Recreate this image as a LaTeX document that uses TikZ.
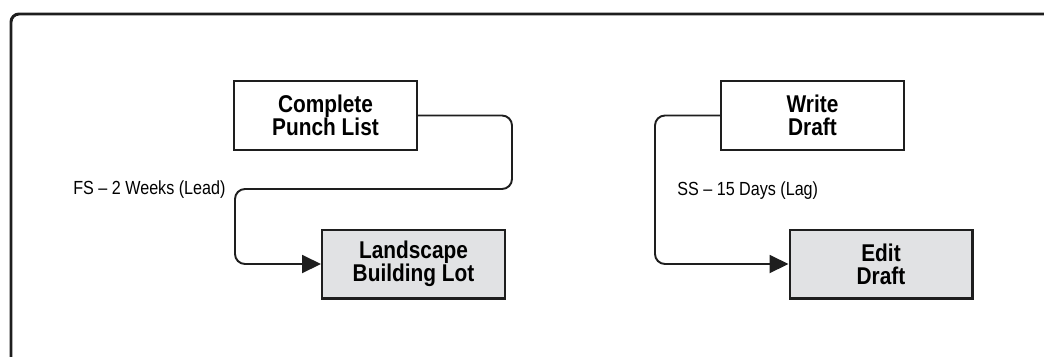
\documentclass[tikz,border=0pt]{standalone}
\usepackage{fontspec}
\setmainfont{Liberation Sans}
\newfontfamily\taskfont{Liberation Sans}[FakeStretch=0.86]
\newfontfamily\lagfont{Liberation Sans}[FakeStretch=0.85]
\usepackage{xcolor}
\usetikzlibrary{arrows.meta,positioning}
\definecolor{ink}{HTML}{1E1E1E}
\definecolor{later}{HTML}{E1E2E4}

\begin{document}
\begin{tikzpicture}[x=0.02cm,y=-0.02cm,
  task/.style={draw=ink,line width=1.15pt,minimum width=3.66cm,minimum height=1.38cm,
    align=center,inner sep=0pt,font=\taskfont\bfseries\fontsize{13.8}{13.2}\selectfont},
  lag/.style={font=\lagfont\fontsize{10.8}{12}\selectfont,anchor=west,inner sep=0pt},
  link/.style={draw=ink,line width=1.1pt,rounded corners=0.2cm,-{Triangle[length=3.8mm,width=3.6mm]}}]
\useasboundingbox (0,0) rectangle (1044,356);
% outer frame, cut at right and bottom
\draw[ink,line width=1.7pt,rounded corners=0.16cm] (11,362) -- (11,14) -- (1050,14);
% FS with lead
\node[task,fill=white] (punch) at (325.5,115.5) {Complete\\Punch List};
\node[task,fill=later] (land) at (413.5,264) {Landscape\\Building Lot};
\draw[link] (punch.east) -| (512,189) -| (235,264) -- (land.west);
\node[lag] (fs) at (73,190) {FS – 2 Weeks (Lead)};
% SS with lag
\node[task,fill=white] (write) at (812.5,115.5) {Write\\Draft};
\node[task,fill=later] (edit) at (881,264) {Edit\\Draft};
\draw[link] (write.west) -| (655,264) -- (edit.west);
\node[lag] (ss) at (677,191) {SS – 15 Days (Lag)};
\end{tikzpicture}
\end{document}
